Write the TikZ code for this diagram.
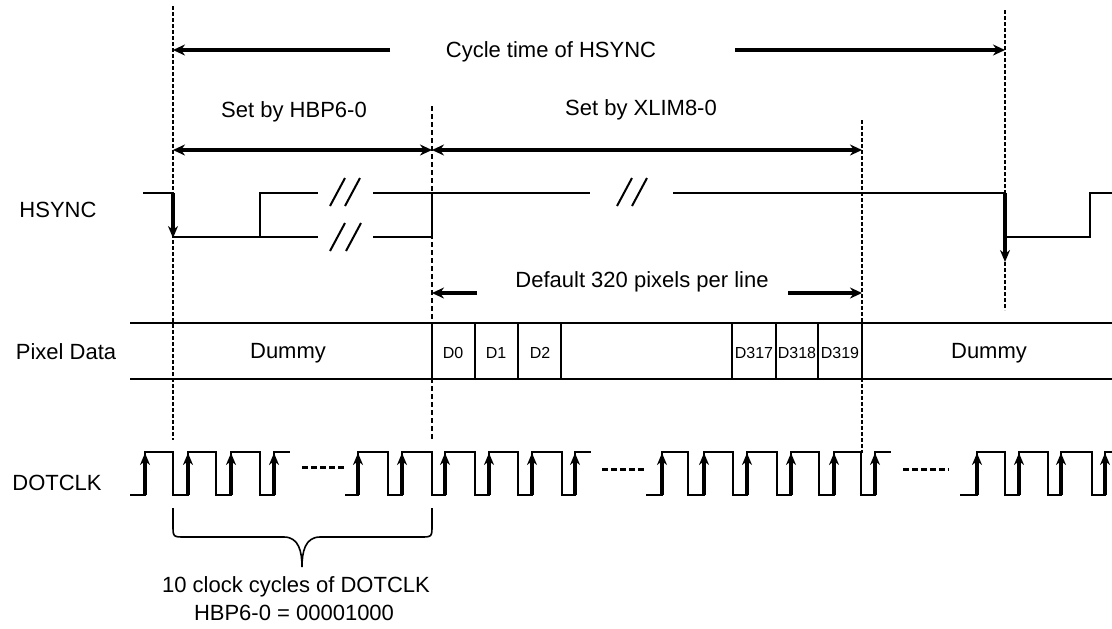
\documentclass[tikz,border=0pt]{standalone}
\usepackage{fontspec}
\setmainfont{Liberation Sans}
\usepackage{tikz}
\usetikzlibrary{arrows.meta,positioning}
\tikzstyle{dimarrow} = [line width=1.8pt,{Stealth[length=6pt,width=5.5pt]}-{Stealth[length=6pt,width=5.5pt]}]
\tikzstyle{dimhalf} = [line width=1.8pt,-{Stealth[length=6pt,width=5.5pt]}]
\tikzstyle{sig} = [line width=0.8pt]
\tikzstyle{edge} = [line width=1.6pt,-{Stealth[length=6pt,width=5pt]}]
\tikzstyle{guide} = [line width=1.4pt,dash pattern=on 2pt off 1pt]
\tikzstyle{guidethin} = [line width=0.7pt,dash pattern=on 2.5pt off 1.5pt]
\tikzstyle{gap} = [line width=1.5pt,dash pattern=on 3pt off 1.5pt]
\tikzstyle{lbl} = [font=\fontsize{11}{13}\selectfont,inner sep=1pt]
\tikzstyle{cell} = [font=\fontsize{8}{10}\selectfont,inner sep=0pt]

\begin{document}
\begin{tikzpicture}[x=0.5pt,y=-0.5pt]
\useasboundingbox (0,0) rectangle (1112,628);

% Timing references
\coordinate (xa) at (173,0);
\coordinate (xb) at (432,0);
\coordinate (xc) at (862,0);
\coordinate (xd) at (1005,0);
\draw[guide] (173,6) -- (173,440);
\draw[guidethin] (432,106) -- (432,440);
\draw[guide] (862,120) -- (862,453);
\draw[guide] (1005,10) -- (1005,310);

% Cycle time of HSYNC
\node[lbl] (cyc) at (551,52) {Cycle time of HSYNC};
\coordinate (cycl) at (390,50);
\coordinate (cycr) at (735,50);
\draw[dimhalf] (cycl) -- (xa |- cycl);
\draw[dimhalf] (cycr) -- (xd |- cycr);

% Set by HBP6-0 / XLIM8-0
\node[lbl] (hbp) at (294,112) {Set by HBP6-0};
\node[lbl] (xlim) at (641,110) {Set by XLIM8-0};
\coordinate (setrow) at (0,150);
\draw[dimarrow] (xa |- setrow) -- (xb |- setrow);
\draw[dimarrow] (xb |- setrow) -- (xc |- setrow);

% HSYNC
\node[lbl] (hsync) at (58,210) {HSYNC};
\draw[sig] (143,193) -| (173,237) -- (318,237);
\draw[sig] (260,237) |- (318,193);
\draw[sig] (373,237) -| (432,193) -- (590,193);
\draw[sig] (373,193) -- (432,193);
\draw[sig] (673,193) -| (1005,237) -| (1090,193) -- (1112,193);
\draw[edge] (173,193) -- (173,238);
\draw[edge] (1005,193) -- (1005,262);
% break marks
\foreach \bx/\by in {330/178,345/178,330/223,346/223,617/178,632/178}
  \draw[sig,line width=1pt] (\bx,\by+28) -- (\bx+15,\by);

% Default 320 pixels per line
\node[lbl] (dflt) at (642,282) {Default 320 pixels per line};
\coordinate (dfl) at (477,293);
\coordinate (dfr) at (788,293);
\draw[dimhalf] (dfl) -- (xb |- dfl);
\draw[dimhalf] (dfr) -- (xc |- dfr);

% Pixel Data
\node[lbl] (pix) at (66,352) {Pixel Data};
\draw[sig] (130,323) -- (1112,323);
\draw[sig] (130,379) -- (1112,379);
\foreach \cx in {432,475,518,561,732,776,818,862}
  \draw[sig] (\cx,323) -- (\cx,379);
\node[lbl] (dum1) at (288,353) {Dummy};
\node[lbl] (dum2) at (989,353) {Dummy};
\node[cell] (d0) at (453,353) {D0};
\node[cell] (d1) at (496,353) {D1};
\node[cell] (d2) at (540,353) {D2};
\node[cell] (d317) at (754,353) {D317};
\node[cell] (d318) at (797,353) {D318};
\node[cell] (d319) at (840,353) {D319};

% DOTCLK
\node[lbl] (clk) at (57,483) {DOTCLK};
\draw[sig] (130,495) foreach \r/\f in {145/173,188/216,231/260} { -| (\r,452) -| (\f,495) } -| (274,452) -- (290,452);
\draw[sig] (345,495) foreach \r/\f in {358/388,402/432,445/475,489/518,532/562} { -| (\r,452) -| (\f,495) } -| (575,452) -- (591,452);
\draw[sig] (646,495) foreach \r/\f in {662/688,704/733,747/777,791/819,834/861} { -| (\r,452) -| (\f,495) } -| (875,452) -- (891,452);
\draw[sig] (960,495) foreach \r/\f in {977/1005,1019/1048,1061/1092} { -| (\r,452) -| (\f,495) } -| (1105,452) -- (1112,452);
\foreach \r in {145,188,231,274,358,402,445,489,532,575,662,704,747,791,834,875,977,1019,1061,1105}
  \draw[edge] (\r,495) -- (\r,453);
\draw[gap] (302,467) -- (347,467);
\draw[gap] (602,469) -- (646,469);
\draw[gap] (903,469) -- (949,469);

% Brace
\draw[sig] (173,508) -- (173,525) .. controls (173,537) .. (185,537) -- (284,537)
  .. controls (299,537) and (302,552) .. (302,567)
  .. controls (302,552) and (305,537) .. (320,537) -- (420,537)
  .. controls (432,537) .. (432,525) -- (432,508);
\node[lbl] (cyc10) at (296,587) {10 clock cycles of DOTCLK};
\node[lbl] (hbpval) at (294,613) {HBP6-0 = 00001000};
\end{tikzpicture}
\end{document}
